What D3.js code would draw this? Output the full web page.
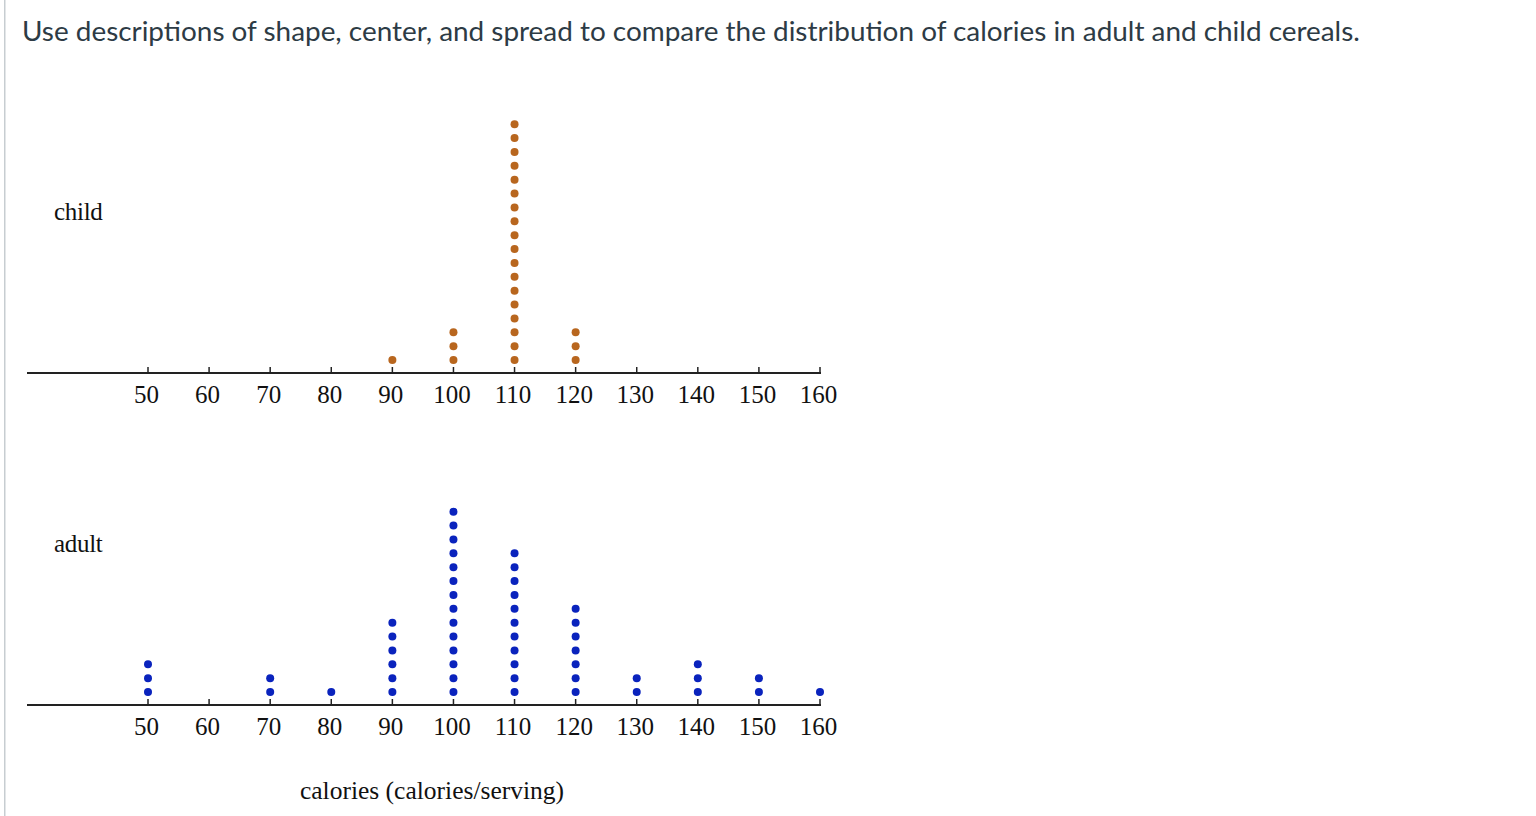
<!DOCTYPE html>
<html>
<head>
<meta charset="utf-8">
<script src="https://cdn.jsdelivr.net/npm/d3@7"></script>
<style>
  html, body { margin: 0; padding: 0; background: #fff; }
  svg { display: block; }
</style>
</head>
<body>
<script>
const titleText = "Use descriptions of shape, center, and spread to compare the distribution of calories in adult and child cereals.";
const calorieValues = [50, 60, 70, 80, 90, 100, 110, 120, 130, 140, 150, 160];
const tickLabels = ["50", "60", "70", "80", "90", "100", "110", "120", "130", "140", "150", "160"];
const childCounts = [0, 0, 0, 0, 1, 3, 18, 3, 0, 0, 0, 0];
const adultCounts = [3, 0, 2, 1, 6, 14, 11, 7, 2, 3, 2, 1];
const groupNames = ["child", "adult"];
const axisTitle = "calories (calories/serving)";

const W = 1536, H = 816;
const svg = d3.select("body").append("svg").attr("width", W).attr("height", H);

// left border
svg.append("rect").attr("x", 4).attr("y", 0).attr("width", 1.5).attr("height", H).attr("fill", "#c7cdd1");

svg.append("text")
  .attr("x", 22).attr("y", 41)
  .attr("font-family", "Lato, sans-serif")
  .attr("font-size", 27.9)
  .attr("fill", "#2d3b45")
  .text(titleText);

const x = d3.scaleLinear().domain([50, 160]).range([148, 820]);
const dotStep = 13.87;

const panels = [
  { name: groupNames[0], counts: childCounts, axisY: 373, labelY: 220, color: "#b8661e" },
  { name: groupNames[1], counts: adultCounts, axisY: 705, labelY: 552, color: "#0a23bd" }
];

panels.forEach(p => {
  const g = svg.append("g");
  g.append("line").attr("x1", 27).attr("x2", x(160) + 1).attr("y1", p.axisY).attr("y2", p.axisY)
    .attr("stroke", "#222").attr("stroke-width", 2);
  g.selectAll("line.tick").data(calorieValues).enter().append("line")
    .attr("class", "tick")
    .attr("x1", d => x(d)).attr("x2", d => x(d))
    .attr("y1", p.axisY).attr("y2", p.axisY - 6)
    .attr("stroke", "#222").attr("stroke-width", 1.5);
  g.selectAll("text.tl").data(calorieValues).enter().append("text")
    .attr("class", "tl")
    .attr("x", d => x(d) - 1.5).attr("y", p.axisY + 30)
    .attr("text-anchor", "middle")
    .attr("font-family", "'Liberation Serif', 'Times New Roman', serif")
    .attr("font-size", 25)
    .attr("fill", "#111")
    .text((d, i) => tickLabels[i]);
  const pts = [];
  calorieValues.forEach((v, i) => {
    for (let k = 0; k < p.counts[i]; k++) pts.push({ v, k });
  });
  g.selectAll("circle").data(pts).enter().append("circle")
    .attr("cx", d => x(d.v))
    .attr("cy", d => p.axisY - 13 - d.k * dotStep)
    .attr("r", 4)
    .attr("fill", p.color);
  g.append("text")
    .attr("x", 54).attr("y", p.labelY)
    .attr("font-family", "'Liberation Serif', 'Times New Roman', serif")
    .attr("font-size", 25)
    .attr("letter-spacing", -0.3)
    .attr("fill", "#111")
    .text(p.name);
});

svg.append("text")
  .attr("x", 432).attr("y", 799)
  .attr("text-anchor", "middle")
  .attr("font-family", "'Liberation Serif', 'Times New Roman', serif")
  .attr("font-size", 25.5)
  .attr("fill", "#111")
  .text(axisTitle);
</script>
</body>
</html>
